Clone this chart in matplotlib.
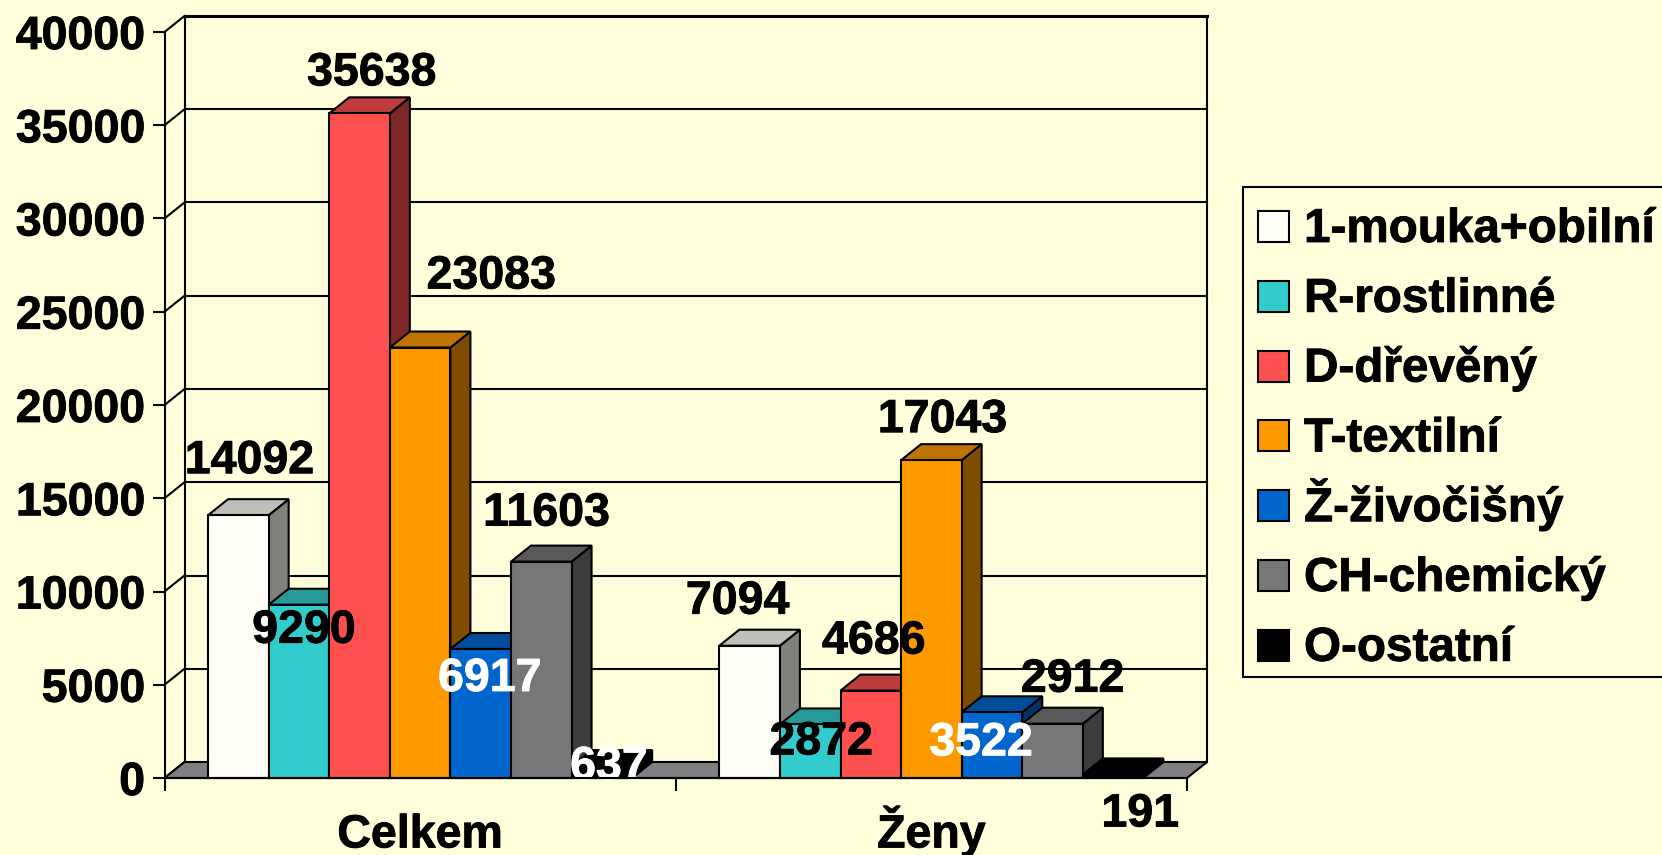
import matplotlib
matplotlib.use("Agg")
import matplotlib.pyplot as plt
import matplotlib.patheffects as pe
from matplotlib.patches import Polygon, Rectangle
from matplotlib.colors import to_rgb

categories = ["Celkem", "Ženy"]
series = ["1-mouka+obilní", "R-rostlinné", "D-dřevěný", "T-textilní", "Ž-živočišný", "CH-chemický", "O-ostatní"]
celkem = [14092, 9290, 35638, 23083, 6917, 11603, 637]
zeny = [7094, 2872, 4686, 17043, 3522, 2912, 191]
y_ticks = [0, 5000, 10000, 15000, 20000, 25000, 30000, 35000, 40000]

colors = ["#FFFFF8", "#33CCCC", "#FF5050", "#FF9900", "#0066CC", "#777777", "#000000"]
label_colors = [["black", "black", "black", "black", "white", "black", "white"],
                ["black", "black", "black", "black", "white", "black", "black"]]
# label offsets from the top of each bar, in pixels (they were moved by hand in the original)
label_offsets = [[(11, 54), (5, -26), (12, 40), (71, 71), (9, -30), (5, 48), (7, -1)],
                 [(-12, 44), (11, -18), (3, 49), (11, 40), (-11, -31), (20, 44), (27, -40)]]

BG = "#FFFFDC"
W, H = 1662, 855
LW = 1.5
FONT = 33.5
LEGEND_FONT = 34.3

plt.rcParams["font.family"] = ["Liberation Sans", "DejaVu Sans"]
plt.rcParams["font.weight"] = "bold"

fig = plt.figure(figsize=(W / 100, H / 100), dpi=100, facecolor=BG)
ax = fig.add_axes([164.5 / W, 1 - 778 / H, 1022.5 / W, 746 / H])
ax.patch.set_visible(False)
ax.set_xlim(0, 2)
ax.set_ylim(0, 40000)

# depth of the fake 3D, 20px across and 16px up
dx = 20 / 1022.5 * 2
dy = 16 / 746 * 40000
bar_w = 0.1185
gap = (1 - 7 * bar_w) / 2


def shade(color, factor):
    return tuple(c * factor for c in to_rgb(color))


def heavier(text):
    # the original text is a bit fatter than Liberation bold
    text.set_path_effects([pe.withStroke(linewidth=0.6, foreground=text.get_color())])


def draw_walls():
    for v in y_ticks:
        ax.plot([0, dx], [v, v + dy], color="black", lw=LW, clip_on=False, zorder=1)
        if v > 0:
            width = 2.2 if v == y_ticks[-1] else LW
            ax.plot([dx, 2 + dx], [v + dy, v + dy], color="black", lw=width, clip_on=False, zorder=1)
    ax.plot([dx, dx], [dy, 40000 + dy], color="black", lw=LW, clip_on=False, zorder=1)
    ax.plot([2 + dx, 2 + dx], [dy, 40000 + dy], color="black", lw=LW, clip_on=False, zorder=1)
    floor = [(0, 0), (2, 0), (2 + dx, dy), (dx, dy)]
    ax.add_patch(Polygon(floor, facecolor="#808080", edgecolor="black", lw=LW, clip_on=False, zorder=2))


def draw_bar(x, v, color, z):
    side = [(x + bar_w, 0), (x + bar_w + dx, dy), (x + bar_w + dx, v + dy), (x + bar_w, v)]
    top = [(x, v), (x + bar_w, v), (x + bar_w + dx, v + dy), (x + dx, v + dy)]
    ax.add_patch(Polygon(side, facecolor=shade(color, 0.5), edgecolor="black", lw=LW, clip_on=False, zorder=z))
    ax.add_patch(Polygon(top, facecolor=shade(color, 0.75), edgecolor="black", lw=LW, clip_on=False, zorder=z))
    ax.bar(x, v, bar_w, align="edge", color=color, edgecolor="black", lw=LW, clip_on=False, zorder=z)


def draw_legend():
    # drawn by hand: fig.legend spaces the row with the caron unevenly
    left, top, row = 1242.5, 187, 69.8
    fig.add_artist(Rectangle((left / W, 1 - 677 / H), (1675 - left) / W, 490 / H, transform=fig.transFigure,
                             facecolor=BG, edgecolor="black", lw=LW))
    for i, name in enumerate(series):
        cy = top + 39.5 + i * row
        fig.add_artist(Rectangle((1258 / W, 1 - (cy + 15.5) / H), 31 / W, 31 / H, transform=fig.transFigure,
                                 facecolor=colors[i], edgecolor="black", lw=LW))
        t = fig.text(1304 / W, 1 - (cy + 15.5) / H, name, fontsize=LEGEND_FONT, va="baseline", color="black")
        heavier(t)


draw_walls()

z = 3
for g, values in enumerate([celkem, zeny]):
    for i, v in enumerate(values):
        draw_bar(g + gap + i * bar_w, v, colors[i], z)
        z += 0.01

for g, values in enumerate([celkem, zeny]):
    for i, v in enumerate(values):
        x = g + gap + (i + 0.5) * bar_w
        t = ax.annotate(str(v), (x, v), xytext=label_offsets[g][i], textcoords="offset pixels",
                        ha="center", va="center", fontsize=FONT, color=label_colors[g][i],
                        annotation_clip=False, zorder=5)
        heavier(t)
        # the 637 label is cut off by the axis in the original
        if v == 637:
            t.set_clip_on(True)

for name in ["top", "right"]:
    ax.spines[name].set_visible(False)
for name in ["left", "bottom"]:
    ax.spines[name].set_linewidth(LW)
    ax.spines[name].set_zorder(6)

ax.set_yticks(y_ticks)
ax.set_xticks([0, 1, 2], labels=[])
ax.set_xticks([0.5, 1.5], labels=categories, minor=True)
ax.tick_params(axis="y", length=9, width=LW, pad=5, labelsize=FONT)
ax.tick_params(axis="x", which="major", length=9, width=LW)
ax.tick_params(axis="x", which="minor", length=0, pad=50, labelsize=FONT)
for lab in ax.get_xticklabels(minor=True):
    lab.set_va("baseline")
    heavier(lab)
for lab in ax.get_yticklabels():
    heavier(lab)

draw_legend()

fig.savefig("out.png", dpi=100, facecolor=BG)
